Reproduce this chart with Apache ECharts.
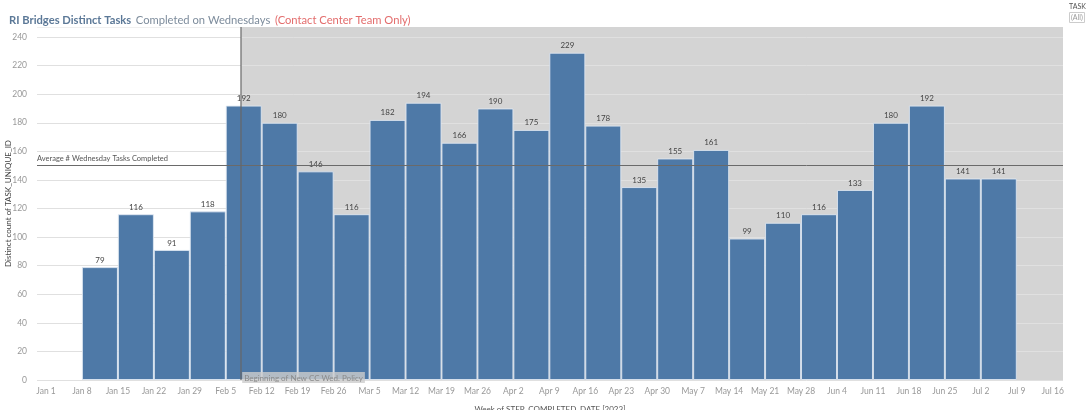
<!DOCTYPE html>
<html>
<head>
<meta charset="utf-8">
<script src="https://cdn.jsdelivr.net/npm/echarts@6/dist/echarts.min.js"></script>
<style>
html,body{margin:0;padding:0;background:#fff;}
#chart{width:1086px;height:410px;}
</style>
</head>
<body>
<div id="chart"></div>
<script>
// ---- data ----
const titleMain = 'RI Bridges Distinct Tasks';
const titleSub = 'Completed on Wednesdays';
const titleNote = '(Contact Center Team Only)';
const weeks = ['Jan 8','Jan 15','Jan 22','Jan 29','Feb 5','Feb 12','Feb 19','Feb 26','Mar 5','Mar 12','Mar 19','Mar 26','Apr 2','Apr 9','Apr 16','Apr 23','Apr 30','May 7','May 14','May 21','May 28','Jun 4','Jun 11','Jun 18','Jun 25','Jul 2'];
const tasks = [79,116,91,118,192,180,146,116,182,194,166,190,175,229,178,135,155,161,99,110,116,133,180,192,141,141];
const xTickLabels = ['Jan 1','Jan 8','Jan 15','Jan 22','Jan 29','Feb 5','Feb 12','Feb 19','Feb 26','Mar 5','Mar 12','Mar 19','Mar 26','Apr 2','Apr 9','Apr 16','Apr 23','Apr 30','May 7','May 14','May 21','May 28','Jun 4','Jun 11','Jun 18','Jun 25','Jul 2','Jul 9','Jul 16'];
const yTicks = [0,20,40,60,80,100,120,140,160,180,200,220,240];
const policyDate = 'Feb 8';
const policyLabel = 'Beginning of New CC Wed. Policy';
const avgLabel = 'Average # Wednesday Tasks Completed';
const xName = 'Week of STEP_COMPLETED_DATE [2023]';
const yName = 'Distinct count of TASK_UNIQUE_ID';

// ---- helpers ----
const YEAR = 2023;
const base = new Date('Jan 1, ' + YEAR).getTime();
function dayOf(label){ return Math.round((new Date(label + ', ' + YEAR).getTime() - base) / 86400000); }
const tickDays = xTickLabels.map(dayOf);
const labelByDay = {};
tickDays.forEach((d,i)=>{ labelByDay[d] = xTickLabels[i]; });
const barData = weeks.map((w,i)=>[dayOf(w) + 3.5, tasks[i]]);
const policyDay = dayOf(policyDate);
const X_MIN = -1.75, X_MAX = 198;

const FONT = 'Lato, "Open Sans", sans-serif';
const chart = echarts.init(document.getElementById('chart'), null, {renderer:'canvas'});
chart.setOption({
  animation:false,
  textStyle:{fontFamily:FONT},
  title:{
    left:4, top:6,
    text:'{a|' + titleMain + '} {b|' + titleSub + '} {c|' + titleNote + '}',
    textStyle:{
      fontFamily:FONT, fontWeight:'normal',
      rich:{
        a:{fontSize:11.2,fontWeight:'bold',color:'#5b7897',fontFamily:FONT},
        b:{fontSize:11.2,fontWeight:'normal',color:'#7d8c9c',fontFamily:FONT},
        c:{fontSize:11.2,fontWeight:'normal',color:'#e36d6d',fontFamily:FONT}
      }
    }
  },
  graphic:[
    {type:'text', left:1069, top:3, style:{text:'TASK', fontSize:7, fill:'#555', fontFamily:FONT}},
    {type:'rect', left:1069, top:12, shape:{width:15,height:10}, style:{fill:'#fff', stroke:'#ccc', lineWidth:1}},
    {type:'text', left:1071, top:14, style:{text:'(All)', fontSize:7, fill:'#999', fontFamily:FONT}}
  ],
  grid:{left:37, right:23, top:27, bottom:30, containLabel:false, outerBoundsMode:'none'},
  xAxis:{
    type:'value', min:X_MIN, max:X_MAX,
    name:xName, nameLocation:'middle', nameGap:25, nameMoveOverlap:false,
    nameTextStyle:{fontSize:8, color:'#555'},
    axisLine:{show:false}, axisTick:{show:false}, splitLine:{show:false},
    axisLabel:{
      customValues:tickDays, fontSize:8.5, color:'#999', margin:7,
      formatter:function(v){ return labelByDay[Math.round(v)] || ''; }
    }
  },
  yAxis:{
    type:'value', min:0, max:247, interval:20,
    name:yName, nameLocation:'middle', nameGap:25, nameMoveOverlap:false,
    nameTextStyle:{fontSize:8, color:'#444'},
    axisLine:{show:false}, axisTick:{show:false},
    axisLabel:{fontSize:8.5, color:'#999', margin:10, showMaxLabel:false},
    splitLine:{lineStyle:{color:'#f0f0f0', width:1}}
  },
  series:[
    {
      name:'bg', type:'line', data:[], showSymbol:false, silent:true,
      markArea:{
        z:1, silent:true,
        itemStyle:{color:'#d4d4d4'},
        data:[[{xAxis:policyDay},{xAxis:X_MAX}]]
      },
      markLine:{
        z:1.5, silent:true, symbol:'none', label:{show:false},
        lineStyle:{color:'#e0e0e0', type:'solid', width:1},
        data:yTicks.map(v=>({yAxis:v}))
      }
    },
    {
      name:'Tasks', type:'bar', z:2,
      data:barData, barWidth:36,
      itemStyle:{color:'#4e79a7', borderColor:'rgba(225,233,243,0.85)', borderWidth:1},
      label:{show:true, position:'top', distance:3, fontSize:8, color:'#444'},
      markLine:{
        z:5, silent:true, symbol:'none',
        data:[
          {type:'average', valueDim:'y', name:avgLabel,
           lineStyle:{color:'#6a6a6a', width:1, type:'solid'},
           label:{show:true, position:'insideStartTop', formatter:avgLabel, fontSize:7.5, color:'#555', distance:[0,2]}},
          {xAxis:policyDay,
           lineStyle:{color:'#666', width:1.5, type:'solid', opacity:0.8},
           label:{show:false}}
        ]
      }
    },
    {
      name:'policy', type:'line', data:[], showSymbol:false, silent:true,
      markArea:{
        z:6, silent:true,
        itemStyle:{color:'rgba(0,0,0,0)'},
        label:{show:true, position:'insideBottomLeft', formatter:policyLabel,
               fontSize:8, color:'#8a8a8a', backgroundColor:'rgba(205,205,205,0.8)',
               padding:[2,2,1,2], offset:[1,3], distance:0},
        data:[[{xAxis:policyDay},{xAxis:X_MAX}]]
      }
    }
  ]
});
</script>
</body>
</html>
